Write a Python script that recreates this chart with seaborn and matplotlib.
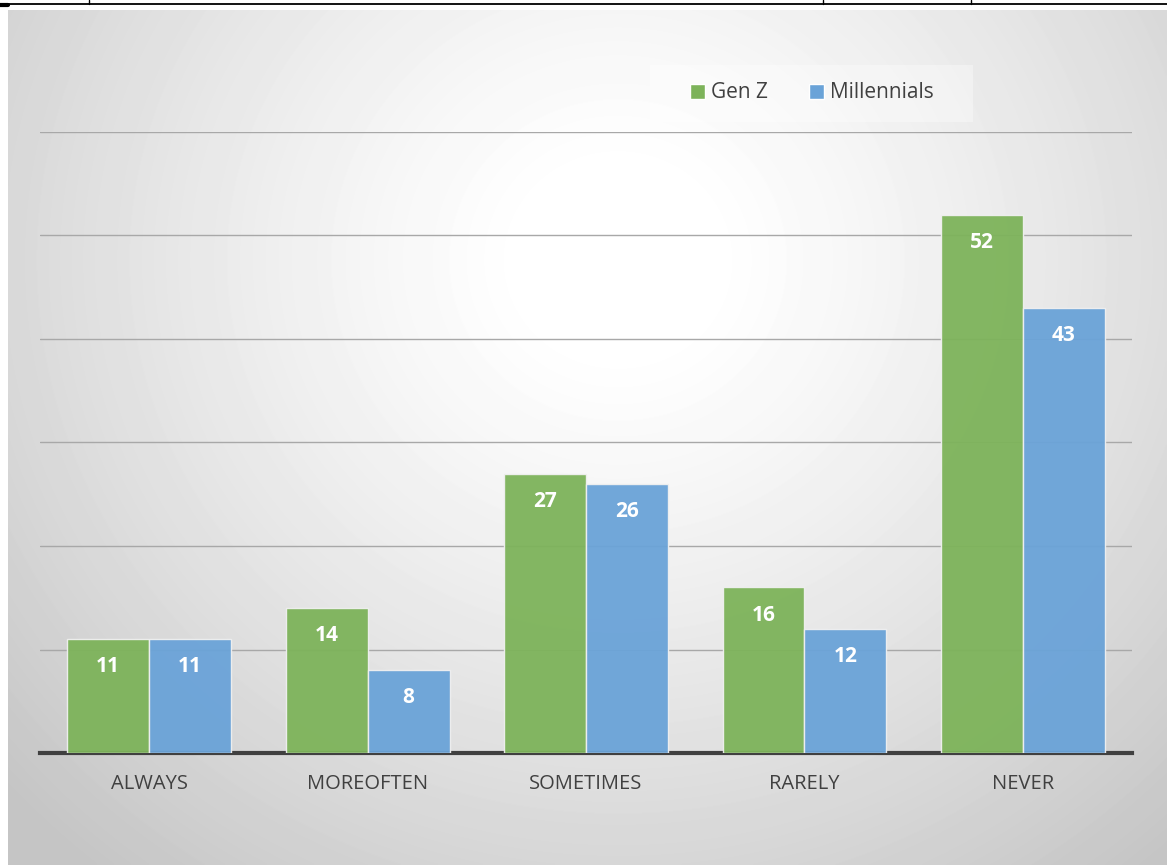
import numpy as np
import pandas as pd
import matplotlib
matplotlib.use("Agg")
import matplotlib.pyplot as plt
import seaborn as sns
from matplotlib.patches import Rectangle
from matplotlib.lines import Line2D

categories = ["ALWAYS", "MOREOFTEN", "SOMETIMES", "RARELY", "NEVER"]
series_names = ["Gen Z", "Millennials"]
gen_z = [11, 14, 27, 16, 52]
millennials = [11, 8, 26, 12, 43]
colors = ["#7DB35A", "#6AA3D8"]

df = pd.DataFrame({
    "category": categories * 2,
    "series": [series_names[0]] * 5 + [series_names[1]] * 5,
    "value": gen_z + millennials,
})

sns.set_theme(style="white")
plt.rcParams["font.family"] = ["Open Sans", "DejaVu Sans"]

W, H = 1167, 865
fig = plt.figure(figsize=(W / 100, H / 100), dpi=100)
fig.patch.set_facecolor("white")

# radial gradient background
bg = fig.add_axes([8 / W, 0, 1 - 8 / W, (H - 10) / H], zorder=0)
yy, xx = np.mgrid[0:855, 0:1159]
cx, cy = 610, 250
d = np.sqrt((xx - cx) ** 2 + ((yy - cy) * 1.05) ** 2)
t = np.clip((d - 90) / 740, 0, 1)
val = 1.0 - 0.23 * t ** 1.2
bg.imshow(val, cmap="gray", vmin=0, vmax=1, aspect="auto", interpolation="bilinear")
bg.axis("off")

# top border line with small ticks
fig.add_artist(Line2D([0, 1], [1 - 3.5 / H, 1 - 3.5 / H], color="black", lw=1.3, zorder=1))
fig.add_artist(Line2D([0, 8 / W], [1 - 4.5 / H, 1 - 4.5 / H], color="black", lw=3, zorder=1))
for xt in [89, 823, 971]:
    fig.add_artist(Line2D([xt / W, xt / W], [1 - 3.5 / H, 1.0], color="black", lw=1, zorder=1))

ax = fig.add_axes([40 / W, 112 / H, 1092 / W, 621 / H], zorder=2)
ax.patch.set_alpha(0)

sns.barplot(data=df, x="category", y="value", hue="series", palette=colors,
            width=0.75, order=categories, hue_order=series_names, saturation=1,
            edgecolor="#f0f0f0", linewidth=1.0, alpha=0.95, ax=ax, legend=False,
            zorder=3)

ax.set_ylim(0, 60)
ax.set_xlim(-0.5, 4.5)
ax.set_yticks([10, 20, 30, 40, 50, 60])
ax.yaxis.grid(True, color="#a8a8a8", lw=1.0)
ax.set_axisbelow(True)
ax.tick_params(axis="y", left=False, labelleft=False)
ax.tick_params(axis="x", bottom=False, labelsize=14.5, labelcolor="#404040", pad=9)
for s in ["top", "right", "left"]:
    ax.spines[s].set_visible(False)
ax.spines["bottom"].set_color("#404040")
ax.spines["bottom"].set_linewidth(3)
ax.set_xlabel("")
ax.set_ylabel("")

for cont in ax.containers:
    for p in cont.patches:
        h = p.get_height()
        ax.annotate(f"{int(round(h))}", xy=(p.get_x() + p.get_width() / 2, h),
                    xytext=(0, -20), textcoords="offset points",
                    ha="center", va="center", color="white",
                    fontsize=15, fontweight="bold", zorder=5)

# legend box
fig.add_artist(Rectangle((650 / W, 1 - 122 / H), 323 / W, 57 / H,
                         transform=fig.transFigure, facecolor="white", alpha=0.35,
                         edgecolor="none", zorder=3))
handles = [Rectangle((0, 0), 1, 1, facecolor=c, edgecolor="white") for c in colors]
leg = fig.legend(handles, series_names, loc="center", bbox_to_anchor=(812 / W, 1 - 93 / H),
                 ncol=2, frameon=False, fontsize=15, handlelength=0.7, handleheight=0.7,
                 handletextpad=0.3, columnspacing=2.0)
for txt in leg.get_texts():
    txt.set_color("#404040")

fig.savefig("out.png", dpi=100)
